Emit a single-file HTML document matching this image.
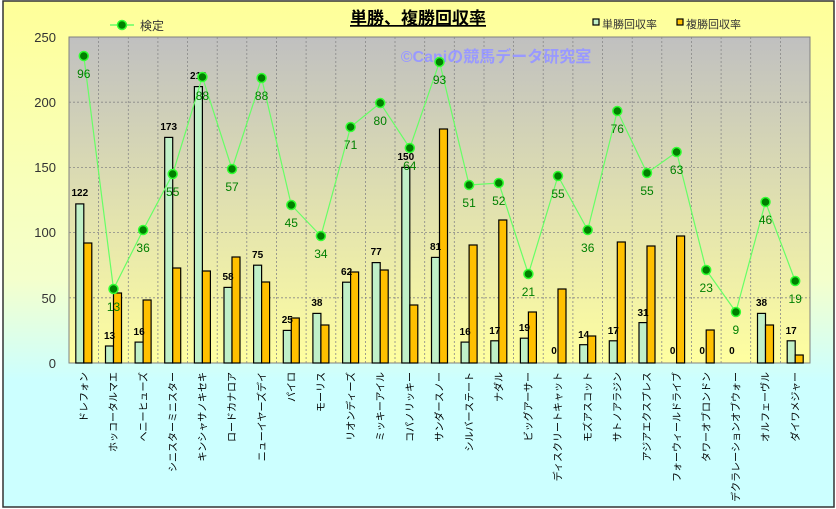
<!DOCTYPE html>
<html><head><meta charset="utf-8"><style>
html,body{margin:0;padding:0;width:836px;height:509px;overflow:hidden;background:#fff}
svg{display:block;font-family:"Liberation Sans","Noto Sans CJK JP",sans-serif}
</style></head><body>
<svg width="836" height="509" viewBox="0 0 836 509" xmlns="http://www.w3.org/2000/svg">
<defs>
<linearGradient id="bg" x1="0" y1="0" x2="0" y2="1">
<stop offset="0" stop-color="#ffff99"/><stop offset="0.55" stop-color="#f4ffcc"/><stop offset="0.75" stop-color="#ccffff"/><stop offset="1" stop-color="#ccffff"/></linearGradient>
<linearGradient id="pa" x1="0" y1="0" x2="0" y2="1">
<stop offset="0" stop-color="#c0c0c0"/><stop offset="1" stop-color="#ffffa0"/></linearGradient>
</defs>
<rect x="0" y="0" width="836" height="509" fill="#fff"/>
<rect x="3" y="1" width="831" height="506" fill="url(#bg)" stroke="#333" stroke-width="1.5"/>
<rect x="69" y="37" width="741" height="326" fill="url(#pa)" stroke="#808080" stroke-width="1"/>
<g stroke="#888" stroke-width="0.8" stroke-dasharray="2,2">
<line x1="69" y1="102.2" x2="810" y2="102.2"/><line x1="69" y1="167.4" x2="810" y2="167.4"/><line x1="69" y1="232.6" x2="810" y2="232.6"/><line x1="69" y1="297.8" x2="810" y2="297.8"/>
<line x1="98.6" y1="37" x2="98.6" y2="363"/><line x1="128.3" y1="37" x2="128.3" y2="363"/><line x1="157.9" y1="37" x2="157.9" y2="363"/><line x1="187.6" y1="37" x2="187.6" y2="363"/><line x1="217.2" y1="37" x2="217.2" y2="363"/><line x1="246.8" y1="37" x2="246.8" y2="363"/><line x1="276.5" y1="37" x2="276.5" y2="363"/><line x1="306.1" y1="37" x2="306.1" y2="363"/><line x1="335.8" y1="37" x2="335.8" y2="363"/><line x1="365.4" y1="37" x2="365.4" y2="363"/><line x1="395" y1="37" x2="395" y2="363"/><line x1="424.7" y1="37" x2="424.7" y2="363"/><line x1="454.3" y1="37" x2="454.3" y2="363"/><line x1="484" y1="37" x2="484" y2="363"/><line x1="513.6" y1="37" x2="513.6" y2="363"/><line x1="543.2" y1="37" x2="543.2" y2="363"/><line x1="572.9" y1="37" x2="572.9" y2="363"/><line x1="602.5" y1="37" x2="602.5" y2="363"/><line x1="632.2" y1="37" x2="632.2" y2="363"/><line x1="661.8" y1="37" x2="661.8" y2="363"/><line x1="691.4" y1="37" x2="691.4" y2="363"/><line x1="721.1" y1="37" x2="721.1" y2="363"/><line x1="750.7" y1="37" x2="750.7" y2="363"/><line x1="780.4" y1="37" x2="780.4" y2="363"/>
</g>
<g font-size="13" fill="#333" text-anchor="end">
<text x="56" y="42">250</text><text x="56" y="107">200</text><text x="56" y="172">150</text><text x="56" y="237">100</text><text x="56" y="303">50</text><text x="56" y="368">0</text>
</g>
<text x="418" y="24" font-size="17" font-weight="bold" text-anchor="middle" fill="#000" text-decoration="underline">単勝、複勝回収率</text>
<text x="496" y="62" font-size="16" font-weight="bold" text-anchor="middle" fill="#9999ff">©Caniの競馬データ研究室</text>
<line x1="110" y1="25" x2="134" y2="25" stroke="#66ff66" stroke-width="1.5"/><circle cx="122" cy="25" r="4.5" fill="#008000" stroke="#33ff33" stroke-width="1.5"/>
<text x="140" y="30" font-size="12" fill="#333">検定</text>
<rect x="593" y="19" width="6" height="6" fill="#c0f0c8" stroke="#000" stroke-width="1.2"/><text x="602" y="28" font-size="11" fill="#333">単勝回収率</text>
<rect x="677" y="19" width="6" height="6" fill="#ffc000" stroke="#000" stroke-width="1.2"/><text x="686" y="28" font-size="11" fill="#333">複勝回収率</text>
<g stroke="#000" stroke-width="1.2" fill="#c0f0c8">
<rect x="75.8" y="203.9" width="8" height="159.1"/><rect x="105.5" y="346" width="8" height="17"/><rect x="135.1" y="342.1" width="8" height="20.9"/><rect x="164.7" y="137.4" width="8" height="225.6"/><rect x="194.4" y="86.6" width="8" height="276.4"/><rect x="224" y="287.4" width="8" height="75.6"/><rect x="253.6" y="265.2" width="8" height="97.8"/><rect x="283.3" y="330.4" width="8" height="32.6"/><rect x="312.9" y="313.4" width="8" height="49.6"/><rect x="342.6" y="282.2" width="8" height="80.8"/><rect x="372.2" y="262.6" width="8" height="100.4"/><rect x="401.8" y="167.4" width="8" height="195.6"/><rect x="431.5" y="257.4" width="8" height="105.6"/><rect x="461.1" y="342.1" width="8" height="20.9"/><rect x="490.8" y="340.8" width="8" height="22.2"/><rect x="520.4" y="338.2" width="8" height="24.8"/><rect x="579.7" y="344.7" width="8" height="18.3"/><rect x="609.3" y="340.8" width="8" height="22.2"/><rect x="639" y="322.6" width="8" height="40.4"/><rect x="757.5" y="313.4" width="8" height="49.6"/><rect x="787.2" y="340.8" width="8" height="22.2"/>
</g>
<g stroke="#000" stroke-width="1.2" fill="#ffc000">
<rect x="83.8" y="243" width="8" height="120"/><rect x="113.5" y="293" width="8" height="70"/><rect x="143.1" y="300" width="8" height="63"/><rect x="172.7" y="268" width="8" height="95"/><rect x="202.4" y="271" width="8" height="92"/><rect x="232" y="257" width="8" height="106"/><rect x="261.6" y="282" width="8" height="81"/><rect x="291.3" y="318" width="8" height="45"/><rect x="320.9" y="325" width="8" height="38"/><rect x="350.6" y="272" width="8" height="91"/><rect x="380.2" y="270" width="8" height="93"/><rect x="409.8" y="305" width="8" height="58"/><rect x="439.5" y="129" width="8" height="234"/><rect x="469.1" y="245" width="8" height="118"/><rect x="498.8" y="220" width="8" height="143"/><rect x="528.4" y="312" width="8" height="51"/><rect x="558" y="289" width="8" height="74"/><rect x="587.7" y="336" width="8" height="27"/><rect x="617.3" y="242" width="8" height="121"/><rect x="647" y="246" width="8" height="117"/><rect x="676.6" y="236" width="8" height="127"/><rect x="706.2" y="330" width="8" height="33"/><rect x="765.5" y="325" width="8" height="38"/><rect x="795.2" y="355" width="8" height="8"/>
</g>
<g font-size="10" font-weight="bold" fill="#000" text-anchor="middle">
<text x="79.8" y="196">122</text><text x="109.5" y="339">13</text><text x="139.1" y="335">16</text><text x="168.7" y="130">173</text><text x="198.4" y="79">212</text><text x="228" y="280">58</text><text x="257.6" y="258">75</text><text x="287.3" y="323">25</text><text x="316.9" y="306">38</text><text x="346.6" y="275">62</text><text x="376.2" y="255">77</text><text x="405.8" y="160">150</text><text x="435.5" y="250">81</text><text x="465.1" y="335">16</text><text x="494.8" y="334">17</text><text x="524.4" y="331">19</text><text x="554" y="354">0</text><text x="583.7" y="338">14</text><text x="613.3" y="334">17</text><text x="643" y="316">31</text><text x="672.6" y="354">0</text><text x="702.2" y="354">0</text><text x="731.9" y="354">0</text><text x="761.5" y="306">38</text><text x="791.2" y="334">17</text>
</g>
<polyline fill="none" stroke="#66ff66" stroke-width="1.2" points="83.8,56 113.5,289 143.1,230 172.7,174 202.4,77 232,169 261.6,78 291.3,205 320.9,236 350.6,127 380.2,103 409.8,148 439.5,62 469.1,185 498.8,183 528.4,274 558,176 587.7,230 617.3,111 647,173 676.6,152 706.2,270 735.9,312 765.5,202 795.2,281"/>
<g fill="#008000" stroke="#33ff33" stroke-width="1.5">
<circle cx="83.8" cy="56" r="4.5"/><circle cx="113.5" cy="289" r="4.5"/><circle cx="143.1" cy="230" r="4.5"/><circle cx="172.7" cy="174" r="4.5"/><circle cx="202.4" cy="77" r="4.5"/><circle cx="232" cy="169" r="4.5"/><circle cx="261.6" cy="78" r="4.5"/><circle cx="291.3" cy="205" r="4.5"/><circle cx="320.9" cy="236" r="4.5"/><circle cx="350.6" cy="127" r="4.5"/><circle cx="380.2" cy="103" r="4.5"/><circle cx="409.8" cy="148" r="4.5"/><circle cx="439.5" cy="62" r="4.5"/><circle cx="469.1" cy="185" r="4.5"/><circle cx="498.8" cy="183" r="4.5"/><circle cx="528.4" cy="274" r="4.5"/><circle cx="558" cy="176" r="4.5"/><circle cx="587.7" cy="230" r="4.5"/><circle cx="617.3" cy="111" r="4.5"/><circle cx="647" cy="173" r="4.5"/><circle cx="676.6" cy="152" r="4.5"/><circle cx="706.2" cy="270" r="4.5"/><circle cx="735.9" cy="312" r="4.5"/><circle cx="765.5" cy="202" r="4.5"/><circle cx="795.2" cy="281" r="4.5"/>
</g>
<g font-size="12" fill="#008000" text-anchor="middle">
<text x="83.8" y="78">96</text><text x="113.5" y="311">13</text><text x="143.1" y="252">36</text><text x="172.7" y="196">55</text><text x="202.4" y="100">88</text><text x="232" y="191">57</text><text x="261.6" y="100">88</text><text x="291.3" y="227">45</text><text x="320.9" y="258">34</text><text x="350.6" y="149">71</text><text x="380.2" y="125">80</text><text x="409.8" y="170">64</text><text x="439.5" y="84">93</text><text x="469.1" y="207">51</text><text x="498.8" y="205">52</text><text x="528.4" y="296">21</text><text x="558" y="198">55</text><text x="587.7" y="252">36</text><text x="617.3" y="133">76</text><text x="647" y="195">55</text><text x="676.6" y="174">63</text><text x="706.2" y="292">23</text><text x="735.9" y="334">9</text><text x="765.5" y="224">46</text><text x="795.2" y="303">19</text>
</g>
<g font-size="10" fill="#000" text-anchor="end">
<text transform="translate(87.5,372) rotate(-90)">ドレフォン</text>
<text transform="translate(117.2,372) rotate(-90)">ホッコータルマエ</text>
<text transform="translate(146.8,372) rotate(-90)">ヘニーヒューズ</text>
<text transform="translate(176.4,372) rotate(-90)">シニスターミニスター</text>
<text transform="translate(206.1,372) rotate(-90)">キンシャサノキセキ</text>
<text transform="translate(235.7,372) rotate(-90)">ロードカナロア</text>
<text transform="translate(265.3,372) rotate(-90)">ニューイヤーズデイ</text>
<text transform="translate(295,372) rotate(-90)">パイロ</text>
<text transform="translate(324.6,372) rotate(-90)">モーリス</text>
<text transform="translate(354.3,372) rotate(-90)">リオンディーズ</text>
<text transform="translate(383.9,372) rotate(-90)">ミッキーアイル</text>
<text transform="translate(413.5,372) rotate(-90)">コパノリッキー</text>
<text transform="translate(443.2,372) rotate(-90)">サンダースノー</text>
<text transform="translate(472.8,372) rotate(-90)">シルバーステート</text>
<text transform="translate(502.5,372) rotate(-90)">ナダル</text>
<text transform="translate(532.1,372) rotate(-90)">ビッグアーサー</text>
<text transform="translate(561.7,372) rotate(-90)">ディスクリートキャット</text>
<text transform="translate(591.4,372) rotate(-90)">モズアスコット</text>
<text transform="translate(621,372) rotate(-90)">サトノアラジン</text>
<text transform="translate(650.7,372) rotate(-90)">アジアエクスプレス</text>
<text transform="translate(680.3,372) rotate(-90)">フォーウィールドライブ</text>
<text transform="translate(709.9,372) rotate(-90)">タワーオブロンドン</text>
<text transform="translate(739.6,372) rotate(-90)">デクラレーションオブウォー</text>
<text transform="translate(769.2,372) rotate(-90)">オルフェーヴル</text>
<text transform="translate(798.9,372) rotate(-90)">ダイワメジャー</text>
</g>
</svg>
</body></html>
